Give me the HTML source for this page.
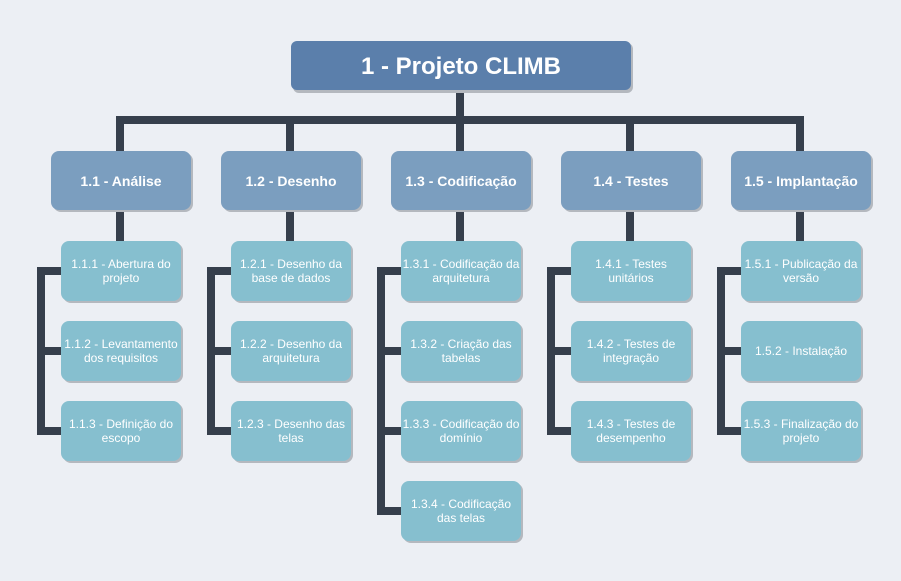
<!DOCTYPE html>
<html><head><meta charset="utf-8"><style>
html,body{margin:0;padding:0;background:#eceff4;}
svg{display:block;}
text{font-family:"Liberation Sans",sans-serif;fill:#fff;text-anchor:middle;}
.c{font-size:12px;}
.p{font-size:14px;font-weight:bold;}
</style></head><body>
<svg width="901" height="581" viewBox="0 0 901 581" xmlns="http://www.w3.org/2000/svg">
<rect width="901" height="581" fill="#eceff4"/>
<g fill="#363f4c">
<rect x="456" y="88" width="8" height="34"/>
<rect x="116" y="116" width="688" height="8"/>
<rect x="116" y="116" width="8" height="36"/>
<rect x="286" y="116" width="8" height="36"/>
<rect x="456" y="116" width="8" height="36"/>
<rect x="626" y="116" width="8" height="36"/>
<rect x="796" y="116" width="8" height="36"/>
<rect x="116" y="208" width="8" height="34"/>
<rect x="286" y="208" width="8" height="34"/>
<rect x="456" y="208" width="8" height="34"/>
<rect x="626" y="208" width="8" height="34"/>
<rect x="796" y="208" width="8" height="34"/>
<rect x="37" y="267" width="8" height="168"/>
<rect x="207" y="267" width="8" height="168"/>
<rect x="377" y="267" width="8" height="248"/>
<rect x="547" y="267" width="8" height="168"/>
<rect x="717" y="267" width="8" height="168"/>
<rect x="37" y="267" width="25" height="8"/><rect x="37" y="347" width="25" height="8"/><rect x="37" y="427" width="25" height="8"/>
<rect x="207" y="267" width="25" height="8"/><rect x="207" y="347" width="25" height="8"/><rect x="207" y="427" width="25" height="8"/>
<rect x="377" y="267" width="25" height="8"/><rect x="377" y="347" width="25" height="8"/><rect x="377" y="427" width="25" height="8"/><rect x="377" y="507" width="25" height="8"/>
<rect x="547" y="267" width="25" height="8"/><rect x="547" y="347" width="25" height="8"/><rect x="547" y="427" width="25" height="8"/>
<rect x="717" y="267" width="25" height="8"/><rect x="717" y="347" width="25" height="8"/><rect x="717" y="427" width="25" height="8"/>
</g>
<rect x="293" y="43" width="340" height="50" rx="6" fill="#b4b8be"/>
<rect x="291" y="41" width="340" height="49" rx="6" fill="#5b7fab"/>
<text x="461" y="74" style="font-size:24px;font-weight:bold">1 - Projeto CLIMB</text>
<g>
<rect x="53" y="153" width="140" height="59" rx="8" fill="#b4b8be"/><rect x="51" y="151" width="140" height="59" rx="8" fill="#7b9ebf"/>
<rect x="223" y="153" width="140" height="59" rx="8" fill="#b4b8be"/><rect x="221" y="151" width="140" height="59" rx="8" fill="#7b9ebf"/>
<rect x="393" y="153" width="140" height="59" rx="8" fill="#b4b8be"/><rect x="391" y="151" width="140" height="59" rx="8" fill="#7b9ebf"/>
<rect x="563" y="153" width="140" height="59" rx="8" fill="#b4b8be"/><rect x="561" y="151" width="140" height="59" rx="8" fill="#7b9ebf"/>
<rect x="733" y="153" width="140" height="59" rx="8" fill="#b4b8be"/><rect x="731" y="151" width="140" height="59" rx="8" fill="#7b9ebf"/>
</g>
<text class="p" x="121" y="186">1.1 - Análise</text>
<text class="p" x="291" y="186">1.2 - Desenho</text>
<text class="p" x="461" y="186">1.3 - Codificação</text>
<text class="p" x="631" y="186">1.4 - Testes</text>
<text class="p" x="801" y="186">1.5 - Implantação</text>
<g fill="#86bfcf">
<g>
<rect x="63" y="243" width="120" height="60" rx="8" fill="#b4b8be"/><rect x="61" y="241" width="120" height="60" rx="8"/>
<rect x="63" y="323" width="120" height="60" rx="8" fill="#b4b8be"/><rect x="61" y="321" width="120" height="60" rx="8"/>
<rect x="63" y="403" width="120" height="60" rx="8" fill="#b4b8be"/><rect x="61" y="401" width="120" height="60" rx="8"/>
</g>
<g transform="translate(170,0)">
<rect x="63" y="243" width="120" height="60" rx="8" fill="#b4b8be"/><rect x="61" y="241" width="120" height="60" rx="8"/>
<rect x="63" y="323" width="120" height="60" rx="8" fill="#b4b8be"/><rect x="61" y="321" width="120" height="60" rx="8"/>
<rect x="63" y="403" width="120" height="60" rx="8" fill="#b4b8be"/><rect x="61" y="401" width="120" height="60" rx="8"/>
</g>
<g transform="translate(340,0)">
<rect x="63" y="243" width="120" height="60" rx="8" fill="#b4b8be"/><rect x="61" y="241" width="120" height="60" rx="8"/>
<rect x="63" y="323" width="120" height="60" rx="8" fill="#b4b8be"/><rect x="61" y="321" width="120" height="60" rx="8"/>
<rect x="63" y="403" width="120" height="60" rx="8" fill="#b4b8be"/><rect x="61" y="401" width="120" height="60" rx="8"/>
<rect x="63" y="483" width="120" height="60" rx="8" fill="#b4b8be"/><rect x="61" y="481" width="120" height="60" rx="8"/>
</g>
<g transform="translate(510,0)">
<rect x="63" y="243" width="120" height="60" rx="8" fill="#b4b8be"/><rect x="61" y="241" width="120" height="60" rx="8"/>
<rect x="63" y="323" width="120" height="60" rx="8" fill="#b4b8be"/><rect x="61" y="321" width="120" height="60" rx="8"/>
<rect x="63" y="403" width="120" height="60" rx="8" fill="#b4b8be"/><rect x="61" y="401" width="120" height="60" rx="8"/>
</g>
<g transform="translate(680,0)">
<rect x="63" y="243" width="120" height="60" rx="8" fill="#b4b8be"/><rect x="61" y="241" width="120" height="60" rx="8"/>
<rect x="63" y="323" width="120" height="60" rx="8" fill="#b4b8be"/><rect x="61" y="321" width="120" height="60" rx="8"/>
<rect x="63" y="403" width="120" height="60" rx="8" fill="#b4b8be"/><rect x="61" y="401" width="120" height="60" rx="8"/>
</g>
</g>
<g>
<text class="c" x="121" y="268">1.1.1 - Abertura do</text><text class="c" x="121" y="282">projeto</text>
<text class="c" x="121" y="348">1.1.2 - Levantamento</text><text class="c" x="121" y="362">dos requisitos</text>
<text class="c" x="121" y="428">1.1.3 - Definição do</text><text class="c" x="121" y="442">escopo</text>
<text class="c" x="291" y="268">1.2.1 - Desenho da</text><text class="c" x="291" y="282">base de dados</text>
<text class="c" x="291" y="348">1.2.2 - Desenho da</text><text class="c" x="291" y="362">arquitetura</text>
<text class="c" x="291" y="428">1.2.3 - Desenho das</text><text class="c" x="291" y="442">telas</text>
<text class="c" x="461" y="268">1.3.1 - Codificação da</text><text class="c" x="461" y="282">arquitetura</text>
<text class="c" x="461" y="348">1.3.2 - Criação das</text><text class="c" x="461" y="362">tabelas</text>
<text class="c" x="461" y="428">1.3.3 - Codificação do</text><text class="c" x="461" y="442">domínio</text>
<text class="c" x="461" y="508">1.3.4 - Codificação</text><text class="c" x="461" y="522">das telas</text>
<text class="c" x="631" y="268">1.4.1 - Testes</text><text class="c" x="631" y="282">unitários</text>
<text class="c" x="631" y="348">1.4.2 - Testes de</text><text class="c" x="631" y="362">integração</text>
<text class="c" x="631" y="428">1.4.3 - Testes de</text><text class="c" x="631" y="442">desempenho</text>
<text class="c" x="801" y="268">1.5.1 - Publicação da</text><text class="c" x="801" y="282">versão</text>
<text class="c" x="801" y="355">1.5.2 - Instalação</text>
<text class="c" x="801" y="428">1.5.3 - Finalização do</text><text class="c" x="801" y="442">projeto</text>
</g>
</svg>
</body></html>
